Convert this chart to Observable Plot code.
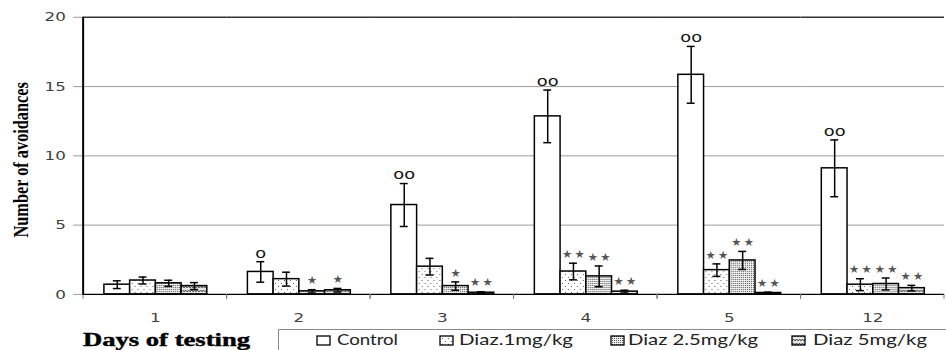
<!DOCTYPE html>
<html><head><meta charset="utf-8">
<script src="https://cdn.jsdelivr.net/npm/d3@7"></script>
<script src="https://cdn.jsdelivr.net/npm/@observablehq/plot@0.6"></script>
<style>
html,body{margin:0;padding:0;background:#fff;overflow:hidden;width:946px;height:350px;}
#wrap{position:relative;width:946px;height:350px;overflow:hidden;}
#wrap svg{display:block;}
#legend{position:absolute;left:0;top:310px;}
</style></head><body><div id="wrap"></div>
<script>
const days = ["1","2","3","4","5","12"];
const series = ["Control","Diaz.1mg/kg","Diaz 2.5mg/kg","Diaz 5mg/kg"];
const meanControl = [0.7, 1.62, 6.45, 12.85, 15.85, 9.1];
const meanDiaz1   = [1.0, 1.1, 2.0, 1.65, 1.75, 0.7];
const meanDiaz25  = [0.8, 0.22, 0.6, 1.3, 2.45, 0.75];
const meanDiaz5   = [0.6, 0.3, 0.12, 0.2, 0.1, 0.45];
const semControl = [0.28, 0.74, 1.55, 1.9, 2.05, 2.05];
const semDiaz1   = [0.25, 0.5, 0.6, 0.6, 0.45, 0.43];
const semDiaz25  = [0.22, 0.12, 0.3, 0.75, 0.65, 0.43];
const semDiaz5   = [0.25, 0.13, 0.07, 0.1, 0.06, 0.2];
const sigControl = ["", "o", "oo", "oo", "oo", "oo"];
const sigDiaz1   = ["", "", "", "**", "**", "**"];
const sigDiaz25  = ["", "*", "*", "**", "**", "**"];
const sigDiaz5   = ["", "*", "**", "**", "**", "**"];
const yTicks = [0, 5, 10, 15, 20];
const gridValues = [5, 10, 15];
const topValue = [20];
const xTitle = "Days of testing";
const yTitle = "Number of avoidances";

const means = [meanControl, meanDiaz1, meanDiaz25, meanDiaz5];
const sems = [semControl, semDiaz1, semDiaz25, semDiaz5];
const sigs = [sigControl, sigDiaz1, sigDiaz25, sigDiaz5];
const data = [];
days.forEach((day, i) => series.forEach((s, j) => data.push({day, series: s, mean: means[j][i], sem: sems[j][i], sig: sigs[j][i]})));
const fills = ["white", "url(#patD1)", "url(#patD25)", "url(#patD5)"];

const plot = Plot.plot({
  width: 956, height: 350,
  marginLeft: 81, marginRight: 0, marginTop: 17, marginBottom: 53,
  style: {fontFamily: "DejaVu Sans", fontSize: "13px", color: "#404040", background: "white", overflow: "visible"},
  fx: {domain: days, padding: 0, label: null},
  x: {domain: series, paddingInner: 0, paddingOuter: 0.73, axis: null},
  y: {domain: [0, 20], label: null},
  color: {domain: series, range: fills},
  marks: [
    Plot.ruleY(gridValues, {stroke: "#9a9a9a", strokeWidth: 1}),
    Plot.ruleY(topValue, {stroke: "#333", strokeWidth: 1.5}),
    Plot.axisY({ticks: yTicks, tickSize: 10, tickPadding: 8, label: null}),
    Plot.axisFx({anchor: "bottom", tickSize: 0, tickPadding: 19, label: null}),
    Plot.barY(data, {fx: "day", x: "series", y: "mean", fill: "series", stroke: "black", strokeWidth: 1.5}),
    Plot.ruleX(data, {fx: "day", x: "series", y1: d => d.mean - d.sem, y2: d => d.mean + d.sem, stroke: "black", strokeWidth: 1.5}),
    Plot.tickY(data, {fx: "day", x: "series", y: d => d.mean + d.sem, insetLeft: 9, insetRight: 9, stroke: "black", strokeWidth: 1.5}),
    Plot.tickY(data, {fx: "day", x: "series", y: d => d.mean - d.sem, insetLeft: 9, insetRight: 9, stroke: "black", strokeWidth: 1.5}),
    Plot.ruleY([0], {stroke: "black", strokeWidth: 1.5}),
    Plot.text(data.filter(d => d.sig.startsWith("o")), {fx: "day", x: "series", y: d => d.mean + d.sem, text: "sig", dy: -9, fontSize: 15, fill: "#111", fontFamily: "DejaVu Sans"}),
    Plot.text(data.filter(d => d.sig.startsWith("*")), {fx: "day", x: "series", y: d => d.mean + d.sem, text: d => d.sig.replace(/\*/g, "★").split("").join("\u2009"), dy: -9, fontSize: 11.5, fill: "#555", fontFamily: "DejaVu Sans"})
  ]
});

const defs = `
<pattern id="patD1" width="6" height="6" patternUnits="userSpaceOnUse">
  <rect width="6" height="6" fill="white"/>
  <rect x="1" y="1" width="1" height="1" fill="#555"/>
  <rect x="4" y="4" width="1" height="1" fill="#666"/>
</pattern>
<pattern id="patD25" width="2" height="2" patternUnits="userSpaceOnUse">
  <rect width="2" height="2" fill="#eeeeee"/>
  <rect x="0" y="0" width="1" height="1" fill="#5a5a5a"/>
</pattern>
<pattern id="patD5" width="6" height="4" patternUnits="userSpaceOnUse">
  <rect width="6" height="4" fill="#e6e6e6"/>
  <path d="M0,3 L1.5,1 L3,3 L4.5,1 L6,3" fill="none" stroke="#333" stroke-width="0.9"/>
</pattern>`;
d3.select(plot).insert("defs", ":first-child").html(defs);

document.getElementById("wrap").appendChild(plot);

const svg = d3.select(plot);
const fx = plot.scale("fx");
const y = plot.scale("y");
const y0 = y.apply(0), yTop = y.apply(20);
svg.selectAll('[aria-label="y-axis tick"] path, [aria-label="y-axis tick"]').attr("stroke", "#9a9a9a");
svg.selectAll('[aria-label="y-axis tick label"] text, [aria-label="fx-axis tick label"] text').each(function() {
  const w = this.getComputedTextLength();
  this.setAttribute("textLength", (w * 1.3).toFixed(1));
  this.setAttribute("lengthAdjust", "spacingAndGlyphs");
  this.setAttribute("fill", "#404040");
});
svg.selectAll('[aria-label="text"] text').each(function() {
  if (this.textContent.startsWith("o")) {
    const w = this.getComputedTextLength();
    this.setAttribute("textLength", (w * 1.2).toFixed(1));
    this.setAttribute("lengthAdjust", "spacingAndGlyphs");
  }
});
const g = svg.append("g");
days.forEach(d => {
  const x0 = fx.apply(d);
  [x0, x0 + fx.bandwidth].forEach(x => g.append("line").attr("x1", x).attr("x2", x).attr("y1", y0).attr("y2", y0 + 5).attr("stroke", "#777").attr("stroke-width", 1));
});
const xl = fx.apply(days[0]);
g.append("line").attr("x1", xl).attr("x2", xl).attr("y1", yTop).attr("y2", y0 + 0.75).attr("stroke", "black").attr("stroke-width", 2);
g.append("text").attr("transform", `translate(21,161.5) rotate(-90)`).attr("text-anchor", "middle").attr("dy", "0.35em")
  .attr("font-family", "Liberation Serif").attr("font-weight", "bold").attr("font-size", 21).attr("fill", "black")
  .attr("textLength", 157).attr("lengthAdjust", "spacingAndGlyphs").text(yTitle);

const leg = d3.select("#wrap").append("svg").attr("id", "legend").attr("width", 946).attr("height", 40);
leg.append("text").attr("x", 83).attr("y", 35.5).attr("font-family", "Liberation Serif").attr("font-weight", "bold")
  .attr("font-size", 18).attr("fill", "black").attr("stroke", "black").attr("stroke-width", 0.4)
  .attr("textLength", 167).attr("lengthAdjust", "spacingAndGlyphs").text(xTitle);
leg.append("path").attr("d", "M278.5,40 V19.5 H946").attr("fill", "none").attr("stroke", "#888").attr("stroke-width", 1);
const swX = [317, 440, 611, 792];
const txX = [337, 459, 628, 813];
const txW = [61, 114, 130, 114];
series.forEach((s, i) => {
  leg.append("rect").attr("x", swX[i]).attr("y", 26).attr("width", 13).attr("height", 9).attr("fill", fills[i]).attr("stroke", "black").attr("stroke-width", 1.3);
  leg.append("text").attr("x", txX[i]).attr("y", 35).attr("font-family", "Lato").attr("font-size", 15).attr("fill", "#222")
    .attr("textLength", txW[i]).attr("lengthAdjust", "spacingAndGlyphs").text(s);
});
</script>
</body></html>
